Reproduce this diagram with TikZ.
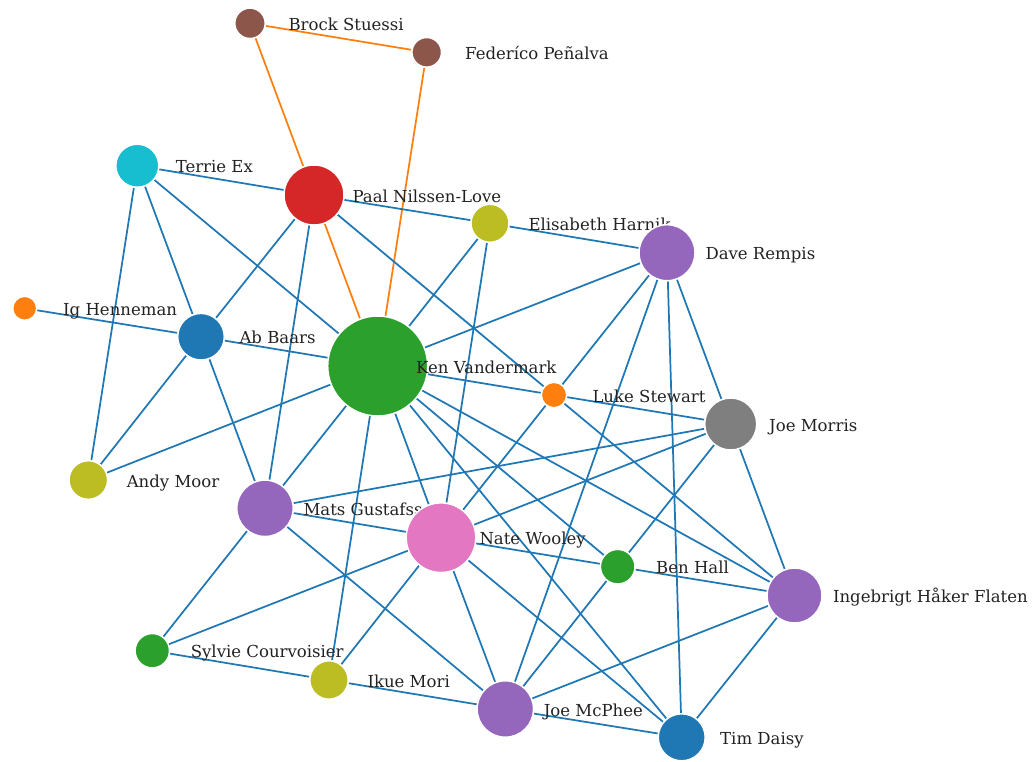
\documentclass[tikz,border=0pt]{standalone}
\usepackage{fontspec}
\setmainfont{DejaVu Serif}
\pgfdeclarelayer{bg}
\pgfdeclarelayer{edges}
\pgfsetlayers{bg,edges,main}
\definecolor{cblue}{HTML}{1F77B4}
\definecolor{corange}{HTML}{FF7F0E}
\definecolor{cgreen}{HTML}{2CA02C}
\definecolor{cred}{HTML}{D62728}
\definecolor{cpurple}{HTML}{9467BD}
\definecolor{cbrown}{HTML}{8C564B}
\definecolor{cpink}{HTML}{E377C2}
\definecolor{cgray}{HTML}{7F7F7F}
\definecolor{colive}{HTML}{BCBD22}
\definecolor{ccyan}{HTML}{17BECF}
\definecolor{labelc}{HTML}{222222}
\tikzset{
  dot/.style={circle, draw=white, line width=1.1pt, minimum size=0.75pt*#1, inner sep=0pt},
  lab/.style={anchor=base west, inner sep=0pt, outer sep=0pt, font=\fontsize{12.4pt}{14pt}\selectfont, text=labelc},
  link/.style={draw=cblue, line width=1.3pt},
  olink/.style={draw=corange, line width=1.3pt}
}
\begin{document}
\begin{tikzpicture}[x=0.75pt, y=-0.75pt]
\begin{pgfonlayer}{bg}
\fill[white] (0,0) rectangle (1032,761);
\end{pgfonlayer}
\useasboundingbox (0,0) rectangle (1032,761);

% nodes with their labels
\node[dot=30.4, fill=cbrown] (brock) at (250,23.3) {};
\node[lab] (brockL) at (288.5,30.3) {Brock Stuessi};
\node[dot=29.6, fill=cbrown] (fede) at (426.7,52.3) {};
\node[lab] (fedeL) at (465.2,59.3) {Federíco Peñalva};
\node[dot=43, fill=ccyan] (terrie) at (137.3,165.7) {};
\node[lab] (terrieL) at (175.8,172.7) {Terrie Ex};
\node[dot=60, fill=cred] (paal) at (314,195) {};
\node[lab] (paalL) at (352.5,202) {Paal Nilssen-Love};
\node[dot=38, fill=colive] (elis) at (490,223.3) {};
\node[lab] (elisL) at (528.5,230.3) {Elisabeth Harnik};
\node[dot=56, fill=cpurple] (dave) at (667,252.7) {};
\node[lab] (daveL) at (705.5,259.7) {Dave Rempis};
\node[dot=24, fill=corange] (ig) at (24.7,308.3) {};
\node[lab] (igL) at (63.2,315.3) {Ig Henneman};
\node[dot=46.6, fill=cblue] (ab) at (201,336.7) {};
\node[lab] (abL) at (239.5,343.7) {Ab Baars};
\node[dot=100, fill=cgreen] (ken) at (377.7,366) {};
\node[lab] (kenL) at (416.2,373) {Ken Vandermark};
\node[dot=25.4, fill=corange] (luke) at (554,395) {};
\node[lab] (lukeL) at (592.5,402) {Luke Stewart};
\node[dot=52, fill=cgray] (morris) at (730.7,424) {};
\node[lab] (morrisL) at (769.2,431) {Joe Morris};
\node[dot=38.6, fill=colive] (andy) at (88.3,480) {};
\node[lab] (andyL) at (126.8,487) {Andy Moor};
\node[dot=56.4, fill=cpurple] (mats) at (265,508.3) {};
\node[lab] (matsL) at (303.5,515.3) {Mats Gustafsson};
\node[dot=69.6, fill=cpink] (nate) at (441,537.7) {};
\node[lab] (nateL) at (479.5,544.7) {Nate Wooley};
\node[dot=34.6, fill=cgreen] (ben) at (617.7,566.7) {};
\node[lab] (benL) at (656.2,573.7) {Ben Hall};
\node[dot=55, fill=cpurple] (inge) at (794.5,595.5) {};
\node[lab] (ingeL) at (833,602.5) {Ingebrigt Håker Flaten};
\node[dot=34.4, fill=cgreen] (sylvie) at (152.3,650.7) {};
\node[lab] (sylvieL) at (190.8,657.7) {Sylvie Courvoisier};
\node[dot=38.4, fill=colive] (ikue) at (329,680) {};
\node[lab] (ikueL) at (367.5,687) {Ikue Mori};
\node[dot=56.4, fill=cpurple] (mcphee) at (505.3,709) {};
\node[lab] (mcpheeL) at (543.8,716) {Joe McPhee};
\node[dot=47, fill=cblue] (tim) at (681.7,737.3) {};
\node[lab] (timL) at (720.2,744.3) {Tim Daisy};

% connectors
\begin{pgfonlayer}{edges}
\draw[olink] (brock) -- (fede);
\draw[olink] (brock) -- (paal);
\draw[olink] (fede) -- (ken);
\draw[olink] (paal) -- (ken);
\draw[link] (terrie) -- (paal);
\draw[link] (terrie) -- (ken);
\draw[link] (terrie) -- (ab);
\draw[link] (terrie) -- (andy);
\draw[link] (paal) -- (elis);
\draw[link] (paal) -- (ab);
\draw[link] (paal) -- (mats);
\draw[link] (paal) -- (luke);
\draw[link] (elis) -- (dave);
\draw[link] (elis) -- (ken);
\draw[link] (elis) -- (nate);
\draw[link] (dave) -- (ken);
\draw[link] (dave) -- (luke);
\draw[link] (dave) -- (morris);
\draw[link] (dave) -- (mcphee);
\draw[link] (dave) -- (tim);
\draw[link] (ig) -- (ab);
\draw[link] (ab) -- (ken);
\draw[link] (ab) -- (andy);
\draw[link] (ab) -- (mats);
\draw[link] (ken) -- (andy);
\draw[link] (ken) -- (luke);
\draw[link] (ken) -- (mats);
\draw[link] (ken) -- (nate);
\draw[link] (ken) -- (ikue);
\draw[link] (ken) -- (ben);
\draw[link] (ken) -- (tim);
\draw[link] (ken) -- (inge);
\draw[link] (luke) -- (morris);
\draw[link] (luke) -- (nate);
\draw[link] (luke) -- (inge);
\draw[link] (morris) -- (mats);
\draw[link] (morris) -- (nate);
\draw[link] (morris) -- (ben);
\draw[link] (morris) -- (inge);
\draw[link] (mats) -- (nate);
\draw[link] (mats) -- (mcphee);
\draw[link] (mats) -- (sylvie);
\draw[link] (nate) -- (ben);
\draw[link] (nate) -- (mcphee);
\draw[link] (nate) -- (tim);
\draw[link] (nate) -- (sylvie);
\draw[link] (nate) -- (ikue);
\draw[link] (ben) -- (mcphee);
\draw[link] (ben) -- (inge);
\draw[link] (inge) -- (mcphee);
\draw[link] (inge) -- (tim);
\draw[link] (sylvie) -- (ikue);
\draw[link] (ikue) -- (mcphee);
\draw[link] (mcphee) -- (tim);
\end{pgfonlayer}
\end{tikzpicture}
\end{document}
